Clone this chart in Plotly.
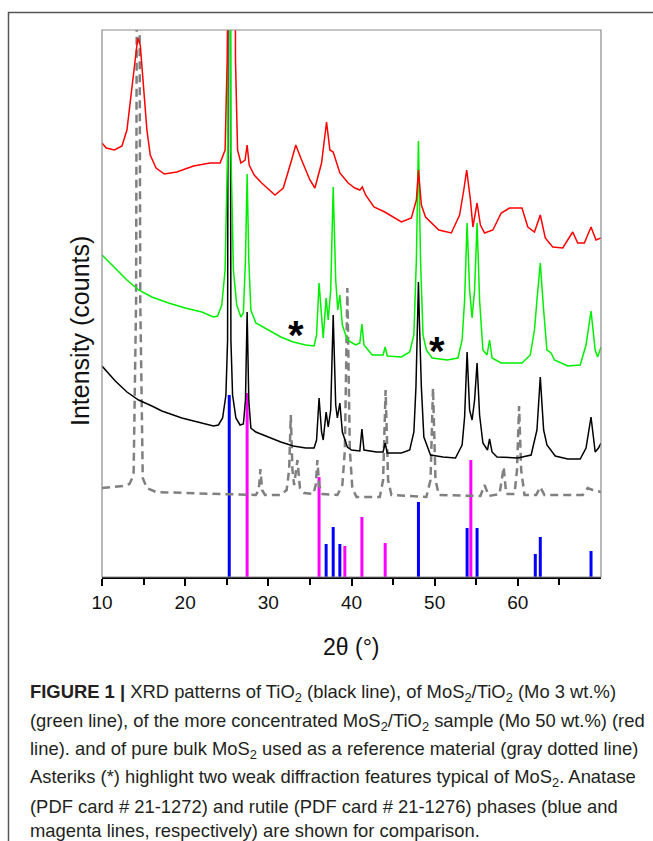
import plotly.graph_objects as go

# ---------------- data (2theta in degrees, intensity in arbitrary units) ----------------
tio2_x = [10.0, 11.0, 11.6, 13.0, 14.4, 16.0, 17.2, 19.6, 22.0, 23.4, 24.0, 24.5, 24.9, 25.1, 25.3, 25.5, 25.7, 26.1,
          26.6, 27.0, 27.25, 27.45, 27.65, 27.9, 28.5, 30.0, 31.5, 33.0, 34.5, 35.5, 35.8, 36.1, 36.4, 36.6, 36.95,
          37.2, 37.5, 37.8, 38.1, 38.3, 38.6, 38.9, 39.5, 40.0, 41.0, 41.25, 41.5, 43.0, 43.8, 44.05, 44.3, 46.0,
          47.0, 47.5, 47.75, 47.95, 48.05, 48.15, 48.4, 48.7, 49.5, 51.0, 52.5, 53.3, 53.6, 53.9, 54.2, 54.5, 54.8,
          55.1, 55.4, 55.8, 56.35, 56.6, 56.9, 57.5, 60.0, 61.6, 62.0, 62.3, 62.7, 63.1, 63.5, 64.0, 64.5, 66.0,
          67.5, 68.2, 68.8, 69.3, 69.7, 70.0]
tio2_y = [211, 202, 196, 185, 177, 171, 166, 159, 154, 151, 152, 159, 182, 237, 1200, 237, 182, 159,
          152, 153, 177, 265, 177, 149, 145, 140, 135, 131, 129, 129, 137, 179, 145, 137, 165,
          150, 167, 262, 172, 159, 174, 145, 130, 127, 126, 148, 127, 125, 125, 134, 124, 124,
          127, 145, 190, 260, 295, 260, 190, 140, 122, 120, 119, 132, 160, 225, 167, 157, 177,
          214, 162, 134, 127, 138, 125, 120, 119, 122, 137, 147, 200, 147, 132, 127, 121, 118,
          118, 129, 160, 125, 129, 134]

mos2_3_x = [10.0, 11.0, 12.0, 13.0, 14.4, 16.0, 18.0, 20.0, 22.0, 23.4, 23.9, 24.4, 24.8, 25.1, 25.3, 25.5, 25.8,
            26.2, 26.7, 27.0, 27.25, 27.45, 27.65, 27.9, 28.5, 30.0, 31.5, 33.0, 34.5, 35.5, 35.8, 36.1, 36.4,
            36.6, 36.95, 37.2, 37.5, 37.8, 38.1, 38.35, 38.6, 38.9, 39.5, 40.5, 41.0, 41.25, 41.5, 42.5, 43.8,
            44.05, 44.3, 46.0, 47.0, 47.5, 47.8, 48.05, 48.3, 48.6, 49.0, 49.7, 51.5, 52.8, 53.3, 53.6, 53.9,
            54.2, 54.5, 54.8, 55.1, 55.4, 55.8, 56.3, 56.6, 56.9, 58.0, 60.5, 61.5, 62.0, 62.3, 62.7, 63.1,
            63.5, 64.0, 64.4, 66.0, 67.5, 68.2, 68.8, 69.3, 69.6, 70.0]
mos2_3_y = [322, 314, 305, 297, 287, 280, 274, 269, 265, 260, 261, 272, 307, 427, 1300, 427, 307,
            272, 260, 264, 317, 403, 317, 267, 254, 247, 240, 235, 232, 231, 242, 294, 257,
            239, 279, 257, 287, 390, 297, 267, 282, 252, 237, 232, 234, 253, 232, 222, 222,
            230, 221, 220, 225, 242, 317, 436, 317, 242, 227, 219, 217, 219, 237, 277, 354,
            287, 259, 287, 354, 277, 227, 222, 237, 219, 214, 214, 222, 247, 277, 314, 267,
            227, 224, 217, 211, 212, 232, 266, 227, 220, 230]

mos2_50_x = [10.0, 10.5, 11.5, 12.4, 13.0, 13.5, 14.0, 14.3, 14.6, 15.0, 15.4, 15.8, 16.5, 17.5, 19.0, 21.0,
             23.0, 24.2, 24.6, 24.8, 25.05, 25.25, 25.85, 26.05, 26.3, 26.7, 27.2, 27.45, 27.7, 28.3, 29.2,
             30.8, 31.8, 32.8, 33.3, 34.0, 35.0, 35.6, 36.4, 37.0, 37.4, 37.8, 38.6, 39.6, 40.4, 41.0, 41.3,
             41.7, 42.7, 44.0, 46.0, 47.2, 47.8, 48.05, 48.4, 48.9, 50.5, 52.0, 53.0, 53.5, 53.85, 54.3,
             54.6, 55.1, 55.5, 56.0, 57.0, 58.0, 59.0, 60.5, 61.2, 62.0, 62.7, 63.3, 64.2, 65.4, 66.6, 67.2,
             68.0, 68.8, 69.4, 70.0]
mos2_50_y = [434, 429, 427, 431, 447, 482, 522, 539, 532, 492, 447, 422, 409, 403, 405, 411,
             414, 414, 422, 427, 517, 1200, 1200, 517, 427, 414, 417, 432, 412, 402, 394,
             382, 389, 417, 432, 417, 397, 389, 414, 455, 427, 425, 404, 394, 389, 387, 390,
             382, 370, 365, 355, 359, 377, 407, 372, 360, 347, 344, 362, 387, 407, 377,
             350, 374, 352, 344, 347, 364, 369, 369, 350, 345, 362, 339, 330, 329, 345, 334,
             334, 350, 337, 339]

bulk_mos2_x = [10.0, 11.5, 12.5, 13.3, 13.8, 14.1, 14.35, 14.6, 14.9, 15.4, 16.5, 20.0, 24.0, 28.5, 28.85, 29.05,
               29.25, 29.6, 31.5, 32.2, 32.5, 32.7, 32.9, 33.1, 33.5, 33.8, 34.3, 35.4, 35.7, 35.9, 36.1, 36.5,
               38.3, 38.9, 39.2, 39.5, 39.8, 40.1, 40.6, 43.4, 43.8, 44.1, 44.4, 44.8, 49.0, 49.5, 49.8, 50.1,
               50.5, 55.5, 56.0, 56.5, 57.8, 58.3, 58.6, 59.6, 59.9, 60.15, 60.4, 60.8, 62.2, 62.7, 63.2, 67.8,
               68.4, 69.0, 70.0]
bulk_mos2_y = [89, 90, 91, 93, 102, 277, 1200, 277, 99, 89, 85, 84, 83, 82, 87, 108,
               87, 82, 82, 87, 107, 162, 107, 92, 117, 89, 84, 83, 92, 117, 92, 83,
               82, 92, 127, 289, 127, 89, 80, 80, 97, 187, 97, 82, 80, 97, 189, 97,
               82, 81, 92, 81, 83, 110, 83, 83, 107, 171, 107, 82, 82, 90, 82, 82,
               89, 87, 85]

anatase_x = [25.3, 36.95, 37.8, 38.6, 48.05, 53.9, 55.1, 62.1, 62.7, 68.8]
anatase_y = [182, 33, 50, 33, 75, 49, 49, 23, 40, 26]
rutile_x = [27.45, 36.1, 39.2, 41.25, 44.05, 54.35]
rutile_y = [184, 100, 31, 60, 34, 117]

asterisk_x = [33.3, 50.3]
asterisk_y = [250, 234]

x_ticks = [10, 20, 30, 40, 50, 60]
x_minor = [15, 25, 35, 45, 55, 65]

caption_lines = [
    "<b>FIGURE 1 |</b> XRD patterns of TiO<sub>2</sub> (black line), of MoS<sub>2</sub>/TiO<sub>2</sub> (Mo 3 wt.%)",
    "(green line), of the more concentrated MoS<sub>2</sub>/TiO<sub>2</sub> sample (Mo 50 wt.%) (red",
    "line). and of pure bulk MoS<sub>2</sub> used as a reference material (gray dotted line)",
    "Asteriks (*) highlight two weak diffraction features typical of MoS<sub>2</sub>. Anatase",
    "(PDF card # 21-1272) and rutile (PDF card # 21-1276) phases (blue and",
    "magenta lines, respectively) are shown for comparison.",
]

# ---------------- layout helpers ----------------
W, H = 653, 841
L, R, T, B = 102, 601, 30, 577


def px_x(px):
    return (px - L) / (R - L)


def px_y(py):
    return (B - py) / (B - T)


AX_FONT = "Liberation Sans, Arial, sans-serif"
CAP_FONT = "Liberation Sans, Arial, sans-serif"

fig = go.Figure()

fig.add_trace(go.Bar(x=anatase_x, y=anatase_y, width=0.36, marker=dict(color="#0000ff", line=dict(width=0)),
                     name="Anatase"))
fig.add_trace(go.Bar(x=rutile_x, y=rutile_y, width=0.36, marker=dict(color="#ff00ff", line=dict(width=0)),
                     name="Rutile"))
fig.add_trace(go.Scatter(x=bulk_mos2_x, y=bulk_mos2_y, mode="lines",
                         line=dict(color="#808080", width=2.5, dash="8px,5px"), name="bulk MoS2"))
fig.add_trace(go.Scatter(x=tio2_x, y=tio2_y, mode="lines", line=dict(color="#000000", width=1.5), name="TiO2"))
fig.add_trace(go.Scatter(x=mos2_3_x, y=mos2_3_y, mode="lines", line=dict(color="#00ee00", width=1.5),
                         name="MoS2/TiO2 3%"))
fig.add_trace(go.Scatter(x=mos2_50_x, y=mos2_50_y, mode="lines", line=dict(color="#ff0000", width=1.5),
                         name="MoS2/TiO2 50%"))

annotations = []
for ax_, ay_ in zip(asterisk_x, asterisk_y):
    annotations.append(dict(x=ax_, y=ay_, xref="x", yref="y", text="<b>*</b>", showarrow=False,
                            font=dict(family=AX_FONT, size=40, color="#000"), yanchor="middle", yshift=-8))

annotations.append(dict(x=px_x(351), y=px_y(647), xref="paper", yref="paper", text="2θ (°)", showarrow=False,
                        font=dict(family=AX_FONT, size=23, color="#111"), xanchor="center", yanchor="middle"))
annotations.append(dict(x=px_x(80), y=px_y(331), xref="paper", yref="paper", text="Intensity (counts)",
                        showarrow=False, textangle=-90,
                        font=dict(family=AX_FONT, size=25, color="#111"), xanchor="center", yanchor="middle"))

cap_y = [693, 721.5, 750, 778, 806, 830.5]
for line, cy in zip(caption_lines, cap_y):
    annotations.append(dict(x=px_x(28), y=px_y(cy), xref="paper", yref="paper", text=line, showarrow=False,
                            font=dict(family=CAP_FONT, size=18.4, color="#231f20"), xanchor="left",
                            yanchor="middle", align="left"))

shapes = [
    # outer figure frame
    dict(type="rect", xref="paper", yref="paper", x0=px_x(8.5), x1=px_x(700), y0=px_y(900), y1=px_y(12.5),
         line=dict(color="#555555", width=1.5), fillcolor="rgba(0,0,0,0)", layer="below"),
    # plot frame (gray left/top/right)
    dict(type="rect", xref="paper", yref="paper", x0=0, x1=1, y0=0, y1=1,
         line=dict(color="#8c8c8c", width=1.2), fillcolor="rgba(0,0,0,0)"),
]

fig.update_layout(
    width=W, height=H,
    margin=dict(l=L, r=W - R, t=T, b=H - B),
    paper_bgcolor="white", plot_bgcolor="white",
    showlegend=False, barmode="overlay",
    annotations=annotations, shapes=shapes,
    xaxis=dict(range=[10, 70], tickmode="array", tickvals=x_ticks, ticks="outside", ticklen=7, tickwidth=1.5,
               tickcolor="#000", showline=True, linecolor="#000", linewidth=1.5, showgrid=False, zeroline=False,
               tickfont=dict(family=AX_FONT, size=19, color="#111"),
               minor=dict(tickmode="array", tickvals=x_minor, ticks="outside", ticklen=6, tickwidth=1.5,
                          tickcolor="#000", showgrid=False)),
    yaxis=dict(range=[0, B - T], showticklabels=False, ticks="", showline=False, showgrid=False, zeroline=False),
)

fig.write_html("out.html")
